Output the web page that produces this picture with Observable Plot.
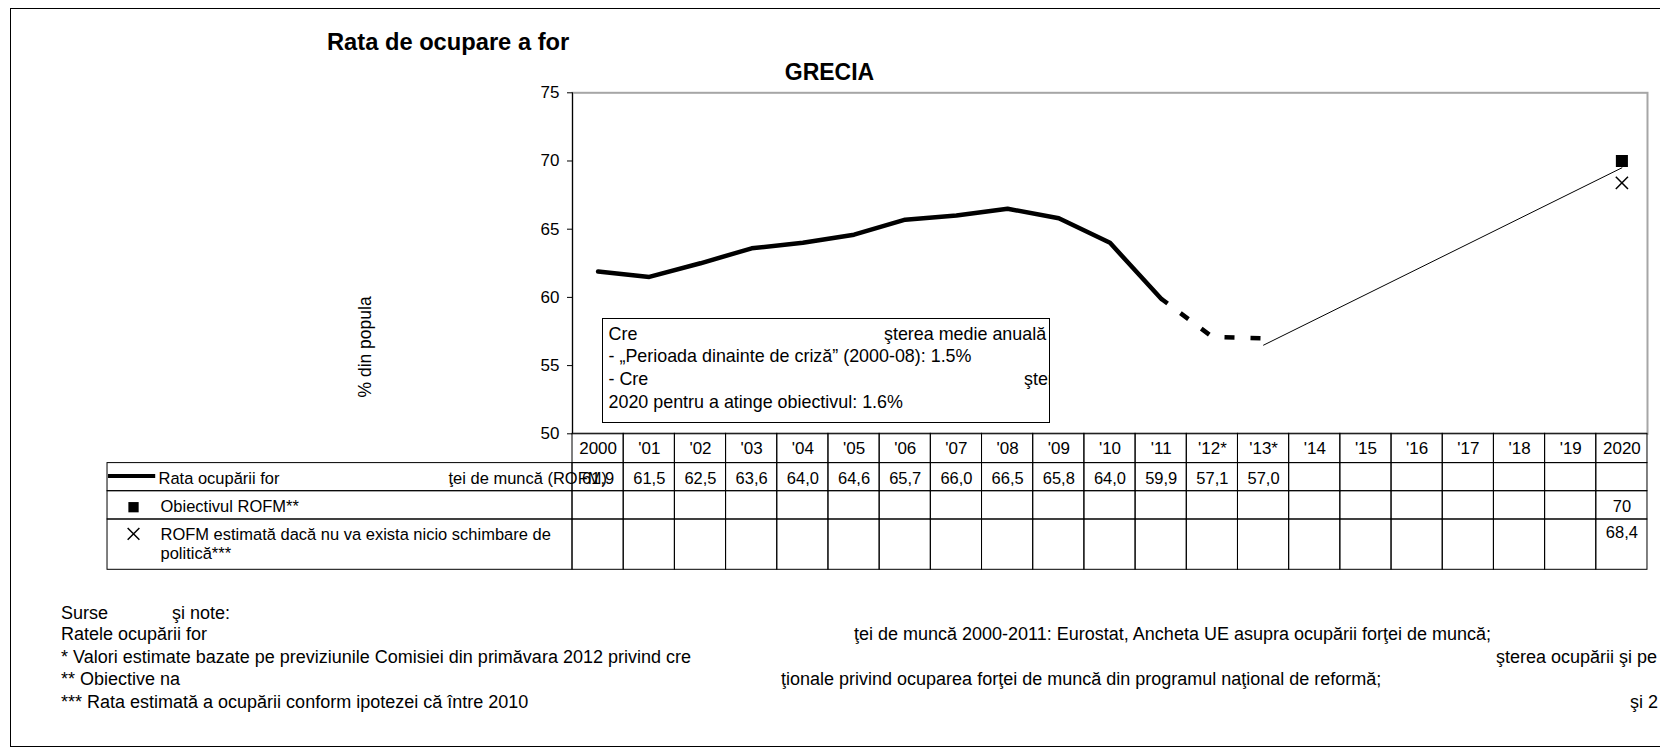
<!DOCTYPE html>
<html>
<head>
<meta charset="utf-8">
<script src="https://cdn.jsdelivr.net/npm/d3@7"></script>
<script src="https://cdn.jsdelivr.net/npm/@observablehq/plot@0.6"></script>
<style>
  html, body { margin: 0; padding: 0; background: #fff; }
  body { width: 1660px; height: 750px; overflow: hidden; position: relative;
         font-family: "Liberation Sans", Arial, sans-serif; color: #000; }
  .abs { position: absolute; white-space: pre; line-height: 1; }
  #frame { position: absolute; left: 10px; top: 8px; width: 1700px; height: 739px;
           border: 1px solid #000; box-sizing: border-box; }
  #notebox { position: absolute; left: 602px; top: 318px; width: 448px; height: 105px;
             border: 1.5px solid #000; box-sizing: border-box; overflow: hidden;
             background: #fff; font-size: 17.9px; }
  #notes { position: absolute; left: 0; top: 0; font-size: 18px; }
  svg { overflow: visible; }
</style>
</head>
<body>
<div id="frame"></div>
<div id="title" class="abs" style="left:327px; top:31px; font-size:23.7px; font-weight:bold;"></div>
<div id="country" class="abs" style="left:729.5px; width:200px; text-align:center; top:60.5px; font-size:23px; font-weight:bold;"></div>
<div id="chart" style="position:absolute; left:0; top:80px;"></div>
<div id="table" style="position:absolute; left:0; top:430px;"></div>
<div id="notebox"></div>
<div id="notes"></div>
<script>
// ---------------- data ----------------
const titleText = "Rata de ocupare a for";
const countryText = "GRECIA";
const yLabel = "% din popula";
const years = ["2000", "'01", "'02", "'03", "'04", "'05", "'06", "'07", "'08", "'09", "'10",
               "'11", "'12*", "'13*", "'14", "'15", "'16", "'17", "'18", "'19", "2020"];
const rofm = [61.9, 61.5, 62.5, 63.6, 64.0, 64.6, 65.7, 66.0, 66.5, 65.8, 64.0, 59.9, 57.1, 57.0];
const targetYear = "2020";
const targetValue = 70;
const noChangeYear = "2020";
const noChangeValue = 68.4;
const pathYears = ["'13*", "2020"];
const pathValues = [56.5, 69.5];
const yTicks = [50, 55, 60, 65, 70, 75];
const seriesLabels = ["Rata ocupării for", "ţei de muncă (ROFM)"];
const targetLabel = "Obiectivul ROFM**";
const noChangeLabel = "ROFM estimată dacă nu va exista nicio schimbare de\npolitică***";
const boxLines = [
  ["Cre", "şterea medie anuală"],
  ["- „Perioada dinainte de criză” (2000-08): 1.5%"],
  ["- Cre", "şterea necesară"],
  ["2020 pentru a atinge obiectivul: 1.6%"]
];
const noteLines = [
  ["Surse", "şi note:"],
  ["Ratele ocupării for", "ţei de muncă 2000-2011: Eurostat, Ancheta UE asupra ocupării forţei de muncă;"],
  ["* Valori estimate bazate pe previziunile Comisiei din primăvara 2012 privind cre", "şterea ocupării şi pe"],
  ["** Obiective na", "ţionale privind ocuparea forţei de muncă din programul naţional de reformă;"],
  ["*** Rata estimată a ocupării conform ipotezei că între 2010", "şi 2"]
];

// ---------------- layout ----------------
const FONT = "Liberation Sans, Arial, sans-serif";
const W = 1660, PLOT_L = 572, PLOT_R = 1647, LEG_L = 107;
const colW = (PLOT_R - PLOT_L) / years.length;
const legCols = (PLOT_L - LEG_L) / colW;
const ROWS = {header: [0, 29.3], rofm: [29.3, 57.4], target: [57.4, 85.7], noChange: [85.7, 136]};
const MID = {header: 14.6, rofm: 44.8, target: 73.4, noChange1: 98.5, noChange: 110};
const fmt = v => d3.format(".1f")(v).replace(".", ",");
const xi = y => years.indexOf(y) + 0.5;

document.getElementById("title").textContent = titleText;
document.getElementById("country").textContent = countryText;

// ---------------- chart ----------------
const firstEst = years.findIndex(d => d.endsWith("*")) - 1;
const measured = rofm.slice(0, firstEst + 1).map((v, i) => ({x: i + 0.5, y: v}));
const estimated = rofm.slice(firstEst).map((v, i) => ({x: firstEst + i + 0.5, y: v}));
const path = pathYears.map((y, i) => ({x: xi(y), y: pathValues[i]}));

const chart = Plot.plot({
  width: W, height: 353.3,
  marginLeft: PLOT_L, marginRight: W - PLOT_R, marginTop: 12.3, marginBottom: 0,
  style: {fontFamily: FONT, fontSize: "17px", color: "#000", background: "transparent", overflow: "visible"},
  x: {type: "linear", domain: [0, years.length], axis: null},
  y: {domain: [50, 75], label: null},
  marks: [
    Plot.frame({stroke: "#a6a6a6", strokeWidth: 2}),
    Plot.axisY({ticks: yTicks, tickSize: 5, tickPadding: 8, fontSize: 17, label: null}),
    Plot.ruleX([0], {stroke: "#000", strokeWidth: 1}),
    Plot.line(measured, {x: "x", y: "y", stroke: "#000", strokeWidth: 4.5}),
    Plot.line(estimated, {x: "x", y: "y", stroke: "#000", strokeWidth: 4.5,
      strokeDasharray: "10,16", strokeDashoffset: 2, strokeLinecap: "butt"}),
    Plot.line(path, {x: "x", y: "y", stroke: "#000", strokeWidth: 1}),
    Plot.dot([{x: xi(targetYear), y: targetValue}], {x: "x", y: "y", symbol: "square", r: 6.8, fill: "#000", stroke: null}),
    Plot.dot([{x: xi(noChangeYear), y: noChangeValue}], {x: "x", y: "y", symbol: "times", r: 5.6, stroke: "#000", strokeWidth: 1.5}),
    Plot.text([yLabel], {frameAnchor: "bottom-left", rotate: -90, textAnchor: "start",
      dx: 370 - PLOT_L, dy: 397 - 433.3, fontSize: 17.5, fill: "#000"})
  ]
});
document.getElementById("chart").appendChild(chart);

// ---------------- table ----------------
const cells = [];
years.forEach((y, i) => {
  for (const r of ["header", "rofm", "target", "noChange"]) {
    cells.push({x1: i, x2: i + 1, y1: ROWS[r][0], y2: ROWS[r][1]});
  }
});
for (const r of ["rofm", "target", "noChange"]) {
  cells.push({x1: -legCols, x2: 0, y1: ROWS[r][0], y2: ROWS[r][1]});
}
const TOP = 3.3, TH = 136;
const table = Plot.plot({
  width: W, height: TOP + TH + 4,
  marginLeft: PLOT_L, marginRight: W - PLOT_R, marginTop: TOP, marginBottom: 4,
  style: {fontFamily: FONT, fontSize: "16.5px", color: "#000", background: "transparent", overflow: "visible"},
  x: {type: "linear", domain: [0, years.length], axis: null},
  y: {type: "linear", domain: [0, TH], range: [TOP, TOP + TH], axis: null},
  marks: [
    Plot.rect(cells, {x1: "x1", x2: "x2", y1: "y1", y2: "y2", fill: "none", stroke: "#000", strokeWidth: 1}),
    Plot.text(years, {x: (d, i) => i + 0.5, y: MID.header, text: d => d, fill: "#000", fontSize: 17}),
    Plot.text(rofm, {x: (d, i) => i + 0.5, y: MID.rofm, text: d => fmt(d), fill: "#000"}),
    Plot.text([targetValue], {x: xi(targetYear), y: MID.target, text: d => String(d), fill: "#000"}),
    Plot.text([noChangeValue], {x: xi(noChangeYear), y: MID.noChange1, text: d => fmt(d), fill: "#000"}),
    // legend swatches
    Plot.ruleY([MID.rofm - 2.5], {x1: -legCols, x2: -legCols + 1, insetLeft: 1, insetRight: 3, stroke: "#000", strokeWidth: 4}),
    Plot.dot([MID.target], {x: -legCols, y: d => d, dx: 26, symbol: "square", r: 5.8, fill: "#000", stroke: null}),
    Plot.dot([MID.noChange1 + 1.5], {x: -legCols, y: d => d, dx: 26, symbol: "times", r: 5.4, stroke: "#000", strokeWidth: 1.5}),
    // legend labels
    Plot.text([seriesLabels[0]], {x: -legCols, y: MID.rofm, dx: 51, textAnchor: "start", fill: "#000"}),
    Plot.text([seriesLabels[1]], {x: -legCols, y: MID.rofm, dx: 341, textAnchor: "start", fill: "#000"}),
    Plot.text([targetLabel], {x: -legCols, y: MID.target, dx: 53, textAnchor: "start", fill: "#000"}),
    Plot.text([noChangeLabel], {x: -legCols, y: MID.noChange, dx: 53, textAnchor: "start", lineHeight: 1.15, fill: "#000"})
  ]
});
document.getElementById("table").appendChild(table);

// ---------------- annotation box ----------------
const box = document.getElementById("notebox");
const boxTops = [7, 29.4, 52, 75];
const boxFragLeft = [[5.5, 281], [5.5], [5.5, 421], [5.5]];
boxLines.forEach((line, li) => {
  line.forEach((t, fi) => {
    const s = document.createElement("div");
    s.className = "abs";
    s.style.left = boxFragLeft[li][fi] + "px";
    s.style.top = boxTops[li] + "px";
    s.textContent = t;
    box.appendChild(s);
  });
});

// ---------------- footnotes ----------------
const notes = document.getElementById("notes");
const noteCenters = [613, 634.5, 657, 679.5, 702];
const noteFragLeft = [[61, 172], [61, 854], [61, 1496], [61, 781], [61, 1630]];
noteLines.forEach((line, li) => {
  line.forEach((t, fi) => {
    const s = document.createElement("div");
    s.className = "abs";
    s.style.left = noteFragLeft[li][fi] + "px";
    s.style.top = (noteCenters[li] - 9.5) + "px";
    s.textContent = t;
    notes.appendChild(s);
  });
});
</script>
</body>
</html>
